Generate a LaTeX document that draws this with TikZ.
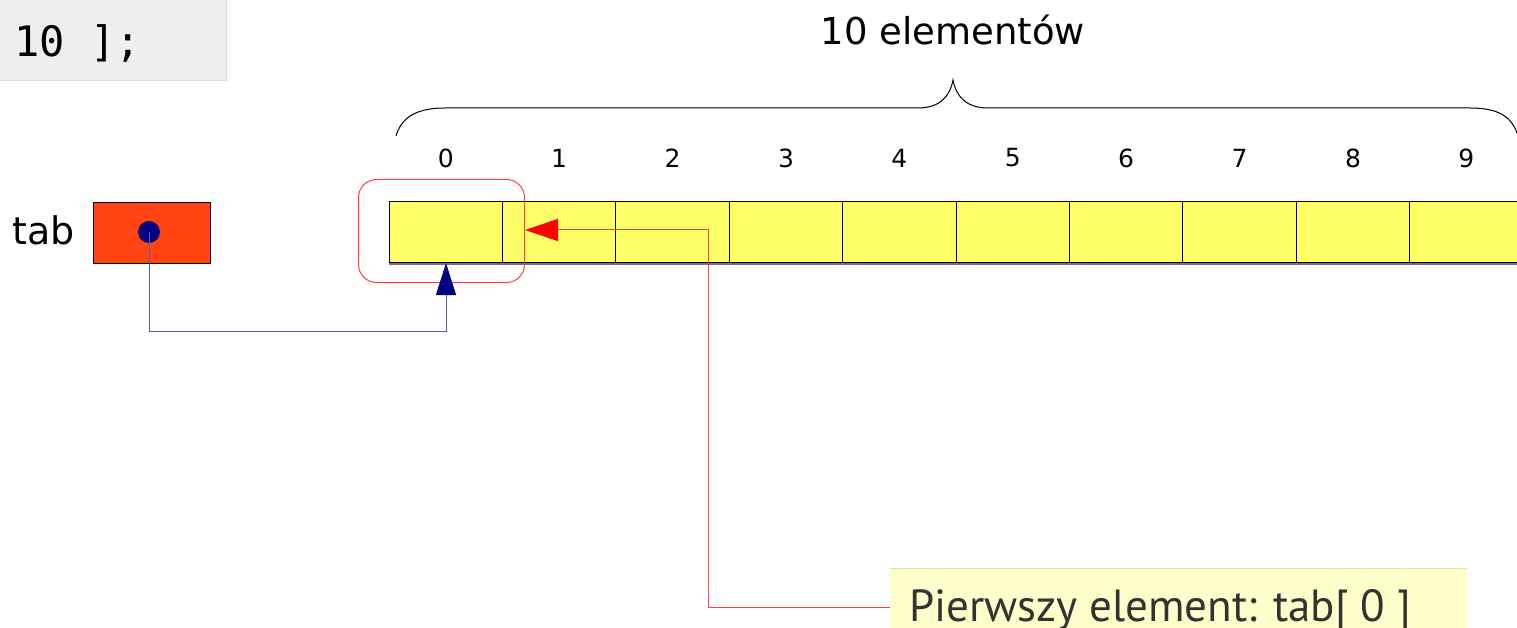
\documentclass[tikz,border=0pt]{standalone}
\usepackage{fontspec}
\setmainfont{DejaVu Sans}
\setmonofont{DejaVu Sans Mono}
\newfontfamily\notefont{PT Sans}
\usetikzlibrary{arrows.meta}
\definecolor{cellfill}{HTML}{FFFF66}
\definecolor{ptrfill}{HTML}{FF4411}
\definecolor{codefill}{HTML}{EFEFEF}
\definecolor{codeedge}{HTML}{DADADA}
\definecolor{notefill}{HTML}{FFFFCC}
\definecolor{noteedge}{HTML}{FFD4A8}
\definecolor{notetext}{HTML}{333333}
\definecolor{hlred}{HTML}{FF4040}
\definecolor{navy}{HTML}{000080}
\definecolor{navyline}{HTML}{5A5AAA}
\tikzset{
  cell/.style={draw=black, fill=cellfill, line width=1pt, minimum width=113.5pt,
    minimum height=61pt, inner sep=0pt, outer sep=0pt, anchor=north west},
  idx/.style={font=\fontsize{25pt}{25pt}\selectfont, inner sep=0pt},
  ptrline/.style={draw=navyline, line width=1pt, -{Triangle[length=32pt,width=20pt,color=navy]}},
  noteline/.style={draw=hlred, line width=1pt, -{Triangle[length=33pt,width=22pt,color=red]}}
}
\begin{document}
\begin{tikzpicture}[x=1pt,y=-1pt]
\useasboundingbox (0,0) rectangle (1517,628);
\fill[white] (0,0) rectangle (1517,628);

% declaration snippet
\node[fill=codefill, draw=codeedge, line width=1pt, anchor=north west, minimum width=227pt,
  minimum height=81pt, inner sep=0pt] (code) at (-1,-1) {};
\node[anchor=base west, inner sep=0pt, font=\ttfamily\fontsize{42pt}{42pt}\selectfont]
  (codetext) at (14,57) {10 ];};

% size label and brace
\node[font=\fontsize{37pt}{37pt}\selectfont, anchor=base, inner sep=0pt] (size) at (953,45) {10 elementów};
\draw[line width=1pt] (396,136) .. controls (402,115) and (420,108) .. (445,108)
  -- (918,108) .. controls (940,108) and (950,96) .. (953,80)
  .. controls (956,96) and (966,108) .. (988,108)
  -- (1470,108) .. controls (1496,108) and (1512,115) .. (1518,136);

% array cells with indices
\foreach \i in {0,...,9} {
  \node[cell] (c\i) at (389+113.4*\i,202) {};
  \node[idx] (n\i) at (c\i.center |- 0,158) {\i};
}
\draw[black!55, line width=1.2pt] (389,264) -- (1517,264);

% highlight of the first element
\node[draw=hlred, line width=1pt, rounded corners=18pt, minimum width=166pt,
  minimum height=103pt, inner sep=0pt, anchor=north west] (hl) at (358,179) {};

% pointer variable
\node[font=\fontsize{38pt}{38pt}\selectfont, anchor=base west, inner sep=0pt] (tab) at (12,245) {tab};
\node[draw=black, fill=ptrfill, line width=1pt, minimum width=117pt, minimum height=61pt,
  inner sep=0pt, anchor=north west] (ptr) at (93,202) {};
\node[circle, fill=navy, minimum size=22pt, inner sep=0pt] (dot) at (149,232) {};
\coordinate (pbend) at (446,331);
\draw[ptrline] (dot.center) |- (pbend) -- (pbend |- c0.south);

% note
\node[fill=notefill, anchor=north west, minimum width=577pt, minimum height=70pt,
  inner sep=0pt] (note) at (890,568) {};
\draw[noteedge, line width=1pt] (note.north west) -- (note.north east);
\node[font=\notefont\fontsize{45pt}{45pt}\selectfont, text=notetext, anchor=base west,
  inner sep=0pt] (notetext) at (909,621) {Pierwszy element: tab[ 0 ]};
\coordinate (rbend) at (708,230);
\draw[noteline] (note.west |- 0,607) -| (rbend) -- (hl.east |- rbend);
\end{tikzpicture}
\end{document}
